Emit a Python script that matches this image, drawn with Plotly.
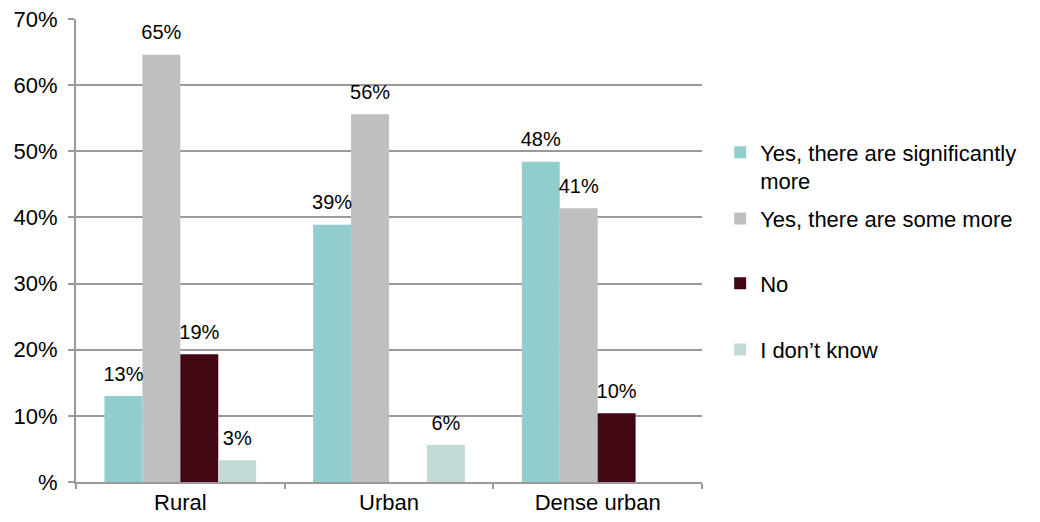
import plotly.graph_objects as go

categories = ["Rural", "Urban", "Dense urban"]
series_names = ["Yes, there are significantly<br>more", "Yes, there are some more", "No", "I don\u2019t know"]
yes_significantly = [13.0, 38.9, 48.4]
yes_some = [64.6, 55.6, 41.4]
no_values = [19.3, None, 10.4]
dont_know = [3.3, 5.6, None]
series_values = [yes_significantly, yes_some, no_values, dont_know]
colors = ["#91CDCC", "#BFBFBF", "#430613", "#C2DAD7"]
tick_vals = [0, 10, 20, 30, 40, 50, 60, 70]
tick_text = ["%", "10%", "20%", "30%", "40%", "50%", "60%", "70%"]

FONT = "Liberation Sans, Arial, sans-serif"
legend_ids = ["legend", "legend2", "legend3", "legend4"]
legend_y = [0.757, 0.614, 0.474, 0.331]

fig = go.Figure()
for i, (name, vals, col) in enumerate(zip(series_names, series_values, colors)):
    fig.add_trace(go.Bar(
        x=categories, y=vals, name=name, marker=dict(color=col, line=dict(width=0)),
        offsetgroup=f"o{i}", hoverinfo="skip", legend=legend_ids[i],
    ))
for i, vals in enumerate(series_values):
    fig.add_trace(go.Scatter(
        x=categories, y=vals, mode="markers+text",
        text=[None if v is None else f"{v:.0f}%" for v in vals],
        textposition="top center",
        textfont=dict(family=FONT, size=20, color="#000000"),
        marker=dict(size=15, opacity=0),
        offsetgroup=f"o{i}", showlegend=False, hoverinfo="skip", cliponaxis=False,
    ))

legend_common = dict(
    x=1.029, xanchor="left", yanchor="top",
    font=dict(family=FONT, size=22, color="#000000"),
    valign="top", bgcolor="rgba(0,0,0,0)",
)

layout_legends = {lid: dict(legend_common, y=ly) for lid, ly in zip(legend_ids, legend_y)}

fig.update_layout(
    width=1024, height=506,
    margin=dict(l=68, r=328, t=11, b=32),
    paper_bgcolor="white", plot_bgcolor="white",
    barmode="group", bargap=0.273, bargroupgap=0,
    scattermode="group", scattergap=0.273,
    font=dict(family=FONT, size=21, color="#000000"),
    showlegend=True,
    xaxis=dict(
        automargin=False,
        showgrid=False, showline=True, linecolor="#9A9A9A", linewidth=2,
        ticks="outside", tickson="boundaries", ticklen=5, tickcolor="#9A9A9A", tickwidth=2,
        ticklabeloverflow="allow",
        tickfont=dict(family=FONT, size=22, color="#000000"),
    ),
    yaxis=dict(
        automargin=False,
        range=[0, 70], tickvals=tick_vals, ticktext=tick_text,
        showgrid=True, gridcolor="#9A9A9A", gridwidth=2,
        showline=True, linecolor="#9A9A9A", linewidth=2,
        ticks="outside", ticklen=6, tickcolor="#9A9A9A", tickwidth=2,
        zeroline=False, ticklabeloverflow="allow", ticklabelstandoff=6,
        tickfont=dict(family=FONT, size=22, color="#000000"),
    ),
    **layout_legends,
)

fig.write_html("out.html")
